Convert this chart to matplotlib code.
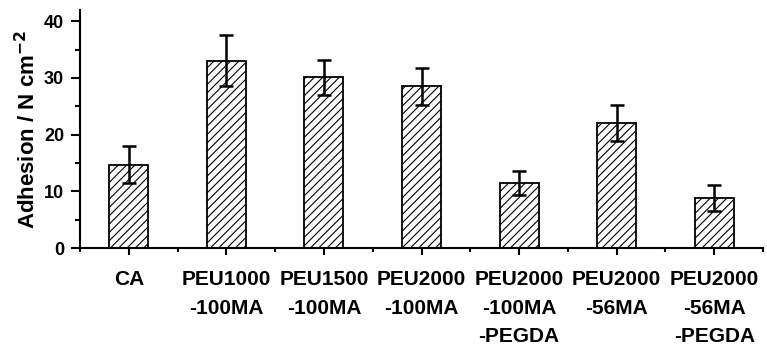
import matplotlib
matplotlib.use('Agg')
import matplotlib.pyplot as plt
import numpy as np

# adhesion strength per sample (mean and error)
samples = ['CA', 'PEU1000\n-100MA', 'PEU1500\n-100MA', 'PEU2000\n-100MA',
           'PEU2000\n-100MA\n-PEGDA', 'PEU2000\n-56MA', 'PEU2000\n-56MA\n-PEGDA']
adhesion = [14.7, 33.0, 30.1, 28.5, 11.5, 22.0, 8.9]
adhesion_err = [3.3, 4.5, 3.1, 3.3, 2.1, 3.2, 2.3]
yticks = [0, 10, 20, 30, 40]

plt.rcParams['font.family'] = ['Liberation Sans', 'DejaVu Sans']
plt.rcParams['font.weight'] = 'bold'
plt.rcParams['mathtext.default'] = 'bf'
plt.rcParams['hatch.linewidth'] = 0.8
plt.rcParams['hatch.color'] = '#333333'

fig = plt.figure(figsize=(7.67, 3.47), dpi=100)
ax = fig.add_axes([0.1043, 0.2853, 0.8905, 0.6859])

x = np.arange(len(samples))
ax.bar(x, adhesion, width=0.4, color='white', edgecolor='black',
       linewidth=1.3, hatch='////', zorder=2)
ax.errorbar(x, adhesion, yerr=adhesion_err, fmt='none', ecolor='black',
            elinewidth=1.8, capsize=5, capthick=1.8, zorder=3)

ax.set_xlim(-0.5, len(samples) - 0.5)
ax.set_ylim(0, 42)
ax.set_xticks(x)
ax.set_xticklabels(samples, fontsize=15, fontweight='bold', linespacing=1.62,
                   va='top')
ax.set_xticks(np.arange(-0.5, len(samples), 1.0), minor=True)
ax.set_yticks(yticks)
ax.set_yticklabels([str(t) for t in yticks], fontsize=13, fontweight='bold')
ax.set_yticks(np.arange(5, 42, 10), minor=True)

ax.tick_params(axis='x', which='major', direction='out', length=5, width=1.5,
               pad=11)
ax.tick_params(axis='x', which='minor', direction='out', length=3, width=1.5)
ax.tick_params(axis='y', which='major', direction='out', length=6.5, width=1.5,
               pad=5)
ax.tick_params(axis='y', which='minor', direction='out', length=3.5, width=1.5)

for s in ['top', 'right']:
    ax.spines[s].set_visible(False)
for s in ['left', 'bottom']:
    ax.spines[s].set_linewidth(1.5)

ax.set_ylabel('Adhesion / N cm$^{-2}$', fontsize=16,
              fontweight='bold', labelpad=3)

plt.savefig('out.png', dpi=100)
